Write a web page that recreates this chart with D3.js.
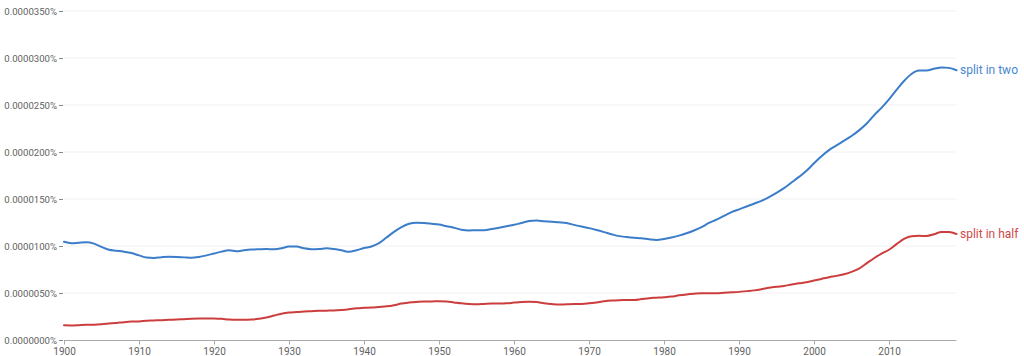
<!DOCTYPE html>
<html><head><meta charset="utf-8">
<script src="https://cdn.jsdelivr.net/npm/d3@7"></script>
<style>
html,body{margin:0;padding:0;background:#fff;}
svg{display:block;font-family:Roboto,"Noto Sans",sans-serif;}
</style></head>
<body><svg id="c" width="1024" height="356"></svg>
<script>
const years = d3.range(1900, 2020);
// values in units of 0.000001 %
const splitInTwo = [
1.045,1.03,1.035,1.04,1.025,0.99,0.96,0.95,0.94,0.925,
0.90,0.877,0.872,0.88,0.886,0.884,0.879,0.874,0.883,0.90,
0.92,0.94,0.954,0.945,0.955,0.962,0.965,0.967,0.965,0.975,
0.995,0.995,0.975,0.966,0.968,0.975,0.968,0.955,0.938,0.955,
0.978,0.995,1.03,1.09,1.15,1.20,1.236,1.248,1.245,1.237,
1.228,1.21,1.195,1.172,1.165,1.168,1.167,1.18,1.195,1.21,
1.225,1.245,1.265,1.27,1.263,1.257,1.252,1.245,1.225,1.207,
1.19,1.17,1.148,1.125,1.105,1.095,1.087,1.082,1.072,1.065,
1.075,1.09,1.11,1.135,1.165,1.20,1.245,1.28,1.32,1.36,
1.39,1.42,1.45,1.48,1.52,1.565,1.615,1.675,1.735,1.80,
1.88,1.955,2.02,2.07,2.12,2.17,2.23,2.30,2.39,2.47,
2.56,2.66,2.755,2.83,2.866,2.868,2.885,2.90,2.895,2.87];
const splitInHalf = [
0.156,0.155,0.158,0.161,0.163,0.168,0.175,0.182,0.19,0.196,
0.198,0.205,0.208,0.211,0.215,0.218,0.222,0.226,0.228,0.229,
0.228,0.225,0.219,0.216,0.216,0.218,0.225,0.24,0.26,0.28,
0.292,0.297,0.302,0.306,0.31,0.312,0.314,0.32,0.328,0.338,
0.342,0.345,0.352,0.358,0.37,0.388,0.398,0.405,0.41,0.41,
0.412,0.41,0.40,0.39,0.383,0.38,0.384,0.388,0.388,0.39,
0.398,0.405,0.408,0.403,0.392,0.383,0.377,0.38,0.383,0.384,
0.39,0.40,0.412,0.42,0.424,0.425,0.426,0.435,0.445,0.45,
0.455,0.462,0.475,0.485,0.492,0.497,0.497,0.497,0.503,0.507,
0.512,0.52,0.528,0.54,0.555,0.566,0.575,0.59,0.603,0.615,
0.632,0.65,0.668,0.682,0.70,0.725,0.76,0.815,0.87,0.92,
0.96,1.02,1.075,1.105,1.108,1.107,1.125,1.15,1.148,1.128];
const seriesNames = ["split in two", "split in half"];
const seriesColors = ["#3b7dc9", "#cc3d3d"];
const labelColors = ["#4a86cf", "#d04848"];
const yTicks = [0, 0.5, 1.0, 1.5, 2.0, 2.5, 3.0, 3.5];
const xTicks = [1900,1910,1920,1930,1940,1950,1960,1970,1980,1990,2000,2010];

const svg = d3.select("#c");
const x = d3.scaleLinear().domain([1900, 2019]).range([64, 956.5]);
const y = d3.scaleLinear().domain([0, 3.5]).range([340, 11]);

// grid
svg.append("g").selectAll("line").data(yTicks.slice(1)).join("line")
  .attr("x1", 64).attr("x2", 956.5)
  .attr("y1", d => y(d)).attr("y2", d => y(d))
  .attr("stroke", "#f1f1f1").attr("stroke-width", 1);

// y axis
const yAxis = svg.append("g").attr("transform", "translate(63,0)")
  .call(d3.axisLeft(y).tickValues(yTicks).tickSize(4).tickPadding(2)
    .tickFormat(d => (d / 100000).toFixed(7) + "%"));
yAxis.select(".domain").remove();
yAxis.selectAll(".tick line").attr("stroke", "#888");
yAxis.selectAll(".tick text").attr("fill", "#5f5f5f").style("font-size", "9.6px")
  .style("font-family", "Roboto, sans-serif");

// x axis
const xAxis = svg.append("g").attr("transform", "translate(0,340.5)")
  .call(d3.axisBottom(x).tickValues(xTicks).tickSize(4).tickPadding(3).tickFormat(d3.format("d")));
xAxis.select(".domain").attr("stroke", "#aaa").attr("d", "M64,0H956.5");
xAxis.selectAll(".tick line").attr("stroke", "#aaa");
xAxis.selectAll(".tick text").attr("fill", "#5f5f5f").style("font-size", "10px")
  .style("font-family", "Roboto, sans-serif");

const line = d3.line().x((d, i) => x(years[i])).y(d => y(d)).curve(d3.curveMonotoneX);
[splitInTwo, splitInHalf].forEach((s, k) => {
  svg.append("path").datum(s).attr("d", line)
    .attr("fill", "none").attr("stroke", seriesColors[k]).attr("stroke-width", 2)
    .attr("stroke-linejoin", "round").attr("stroke-linecap", "round");
  svg.append("text").attr("x", x(2019) + 3.5).attr("y", y(s[s.length - 1]))
    .attr("dy", "0.35em").attr("fill", labelColors[k])
    .style("font-size", "12px").style("font-family", "Roboto, sans-serif")
    .text(seriesNames[k]);
});
</script></body></html>
